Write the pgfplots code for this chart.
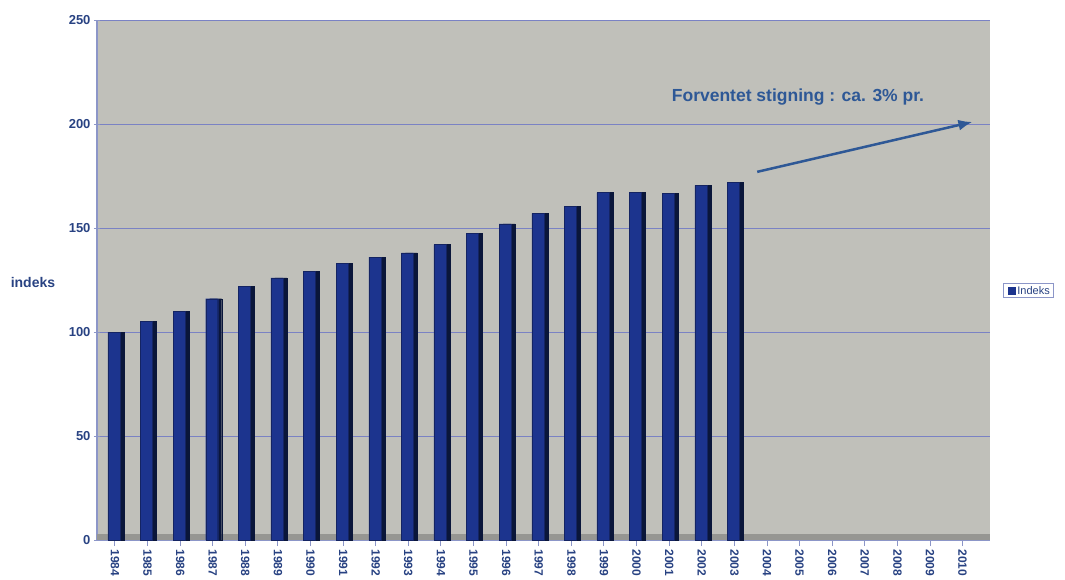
\documentclass[border=0pt]{standalone}
\usepackage{fontspec}
\setmainfont{Liberation Sans}
\usepackage{pgfplots}
\pgfplotsset{compat=1.18}
\usetikzlibrary{arrows.meta}
\definecolor{wall}{RGB}{192,192,186}
\definecolor{gridc}{RGB}{122,130,196}
\definecolor{barfront}{RGB}{28,52,142}
\definecolor{barside}{RGB}{10,22,58}
\definecolor{lab}{RGB}{40,66,130}
\definecolor{arr}{RGB}{46,88,150}
\definecolor{axcol}{RGB}{140,150,200}
\definecolor{floorc}{RGB}{150,150,146}
\begin{document}
\begin{tikzpicture}
\begin{axis}[
  scale only axis,
  clip=false,
  width=893pt, height=520pt,
  xmin=-0.55, xmax=26.84,
  ymin=0, ymax=250,
  ytick={0,50,100,150,200,250},
  xtick={0,...,26},
  xticklabels={1984,1985,1986,1987,1988,1989,1990,1991,1992,1993,1994,1995,1996,1997,1998,1999,2000,2001,2002,2003,2004,2005,2006,2007,2008,2009,2010},
  x tick label style={rotate=-90, anchor=west, font=\fontsize{12}{12}\selectfont\bfseries, text=lab},
  y tick label style={font=\fontsize{13}{13}\selectfont\bfseries, text=lab},
  /pgf/number format/assume math mode=true,
  tick style={axcol, line width=1pt},
  major tick length=6pt,
  tick align=outside,
  xtick pos=bottom, ytick pos=left,
  axis x line=bottom, axis y line=left,
  axis line style={axcol, line width=1.5pt, -},
  axis background/.style={fill=wall},
  ymajorgrids=true,
  major grid style={draw=gridc, line width=1pt},
  ylabel={indeks},
  ylabel style={at={(axis description cs:-0.0717,0.496)}, rotate=-90, anchor=center, font=\fontsize{14}{14}\selectfont\bfseries, text=lab},
  ybar, bar width=12pt,
]
\fill[floorc] (rel axis cs:0,0) rectangle (rel axis cs:1,0.012);
\addplot[fill=barside, draw=barside, bar shift=3pt, forget plot] coordinates {
(0,100) (1,105) (2,110) (3,116) (4,122) (5,126) (6,129) (7,133) (8,136) (9,138) (10,142) (11,147.5) (12,152) (13,157) (14,160.5) (15,167) (16,167) (17,166.5) (18,170.5) (19,172)};
\addplot[fill=barfront, draw=barfront!70!black, bar shift=-1pt, forget plot] coordinates {
(0,100) (1,105) (2,110) (3,116) (4,122) (5,126) (6,129) (7,133) (8,136) (9,138) (10,142) (11,147.5) (12,152) (13,157) (14,160.5) (15,167) (16,167) (17,166.5) (18,170.5) (19,172)};
\draw[arr, line width=2.5pt, -{Latex[length=14pt,width=11pt]}] (axis cs:19.7,177) -- (axis cs:26.3,201);
\node[text=arr, font=\fontsize{17.5}{17.5}\selectfont\bfseries] at (axis cs:20.95,213) {Forventet stigning : ca. 3\% pr.};
\node[draw=axcol, line width=1pt, fill=white, anchor=west, inner xsep=4pt, inner ysep=3pt, font=\fontsize{11}{11}\selectfont, text=lab] at (axis description cs:1.0146,0.479) {\textcolor{barfront}{\rule{8pt}{8pt}}\,Indeks};
\coordinate (bl) at (rel axis cs:0,0);
\end{axis}
\path[use as bounding box] ([shift={(-97pt,-39pt)}]bl) rectangle ([shift={(968pt,540pt)}]bl);
\end{tikzpicture}
\end{document}
